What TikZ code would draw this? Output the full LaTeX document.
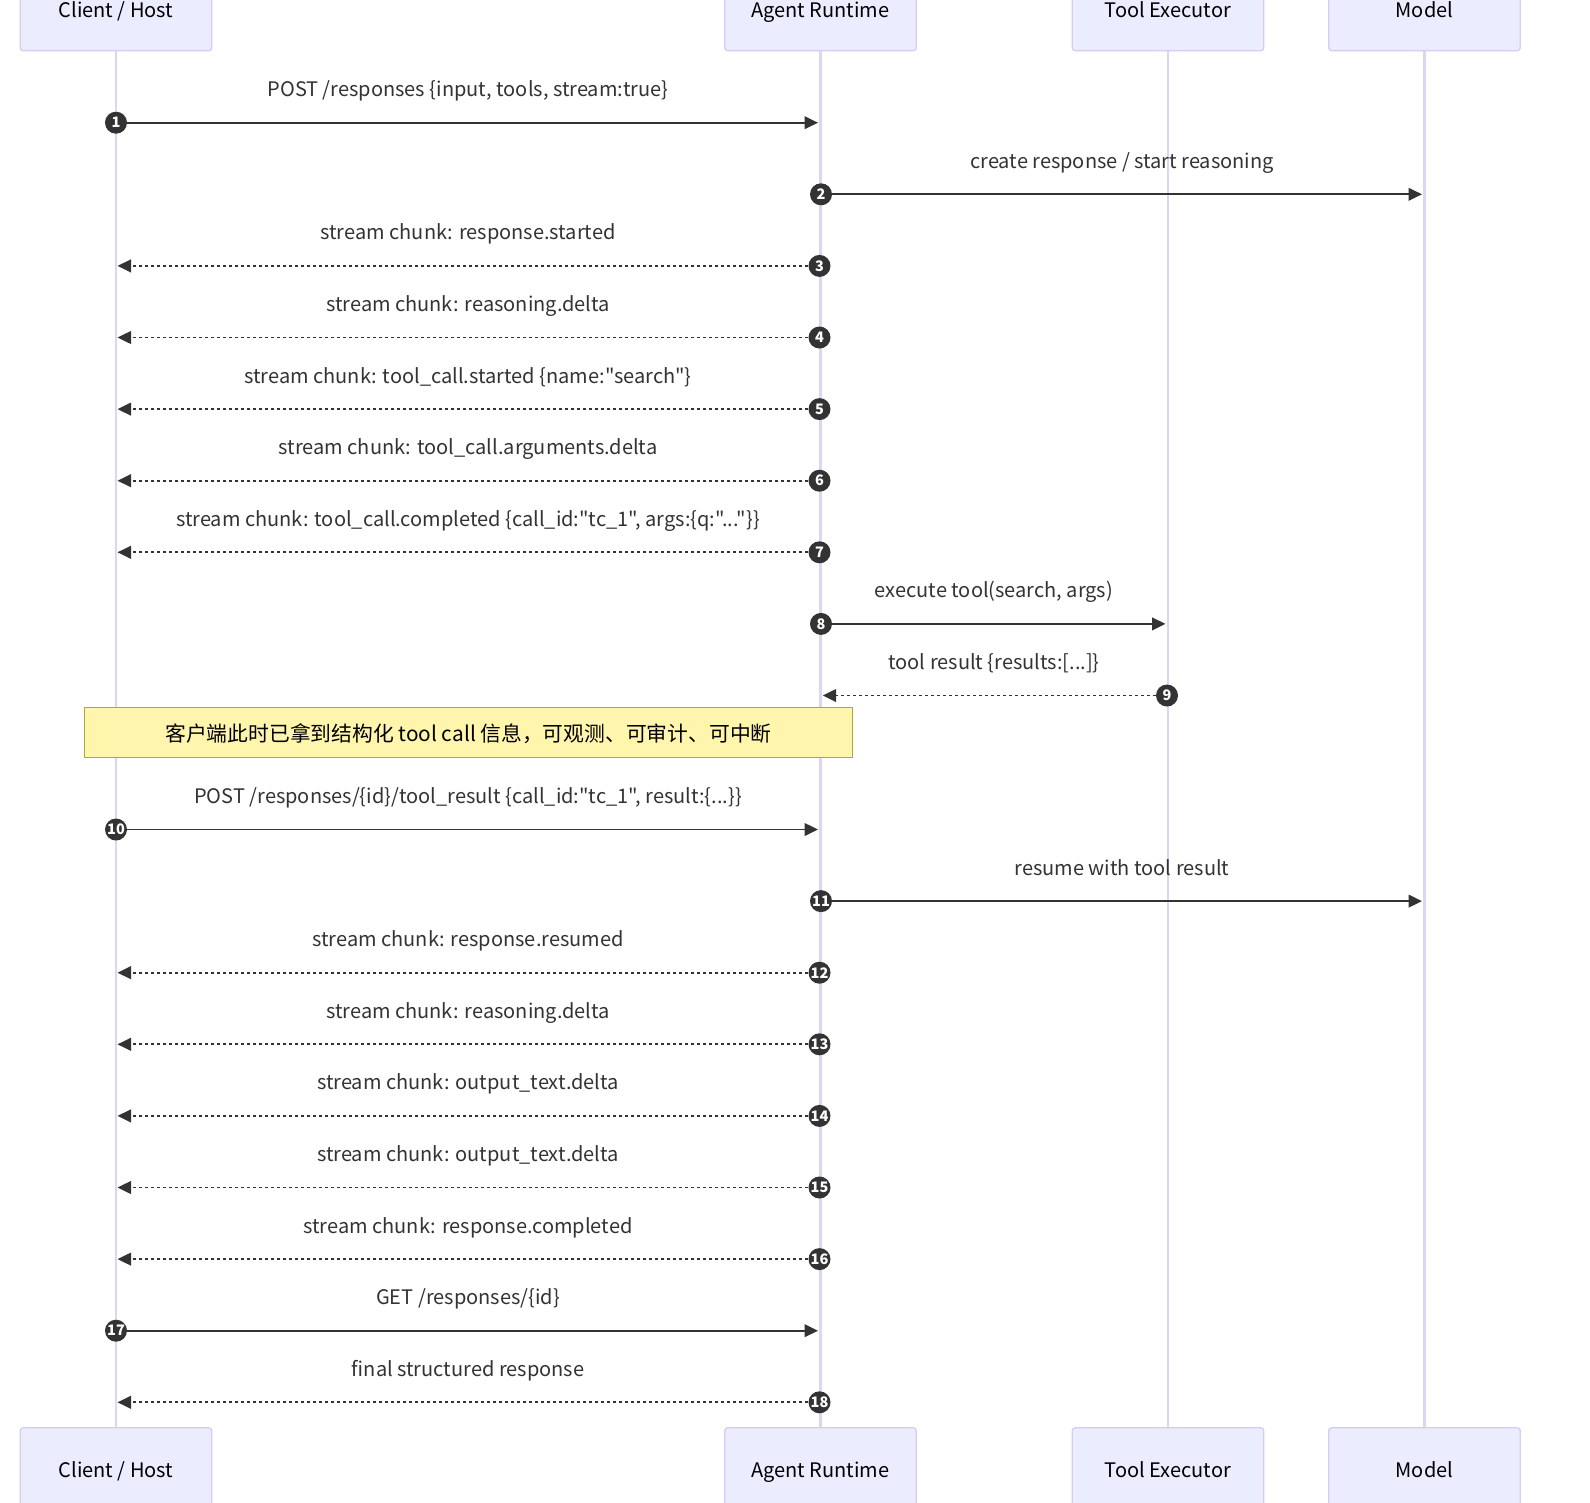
\documentclass[tikz,border=0pt]{standalone}
\usepackage{fontspec}
\setmainfont{Noto Sans CJK SC}[Ligatures=TeXOff]
\newfontfamily\numfont{Noto Sans CJK SC}[Ligatures=TeXOff]
\usetikzlibrary{arrows.meta}
\definecolor{actfill}{HTML}{ECECFF}
\definecolor{actline}{HTML}{D6CCF3}
\definecolor{lifeline}{HTML}{DDD5F6}
\definecolor{ink}{HTML}{333333}
\definecolor{notefill}{HTML}{FFF5AD}
\definecolor{noteline}{HTML}{AAAA33}
\newcommand{\seqmsg}[7]{%
  \node[num] (n#1) at (#3,#2) {#1};
  \coordinate (e#1) at (#4,#2);
  \draw[#5] (n#1) -- (e#1);
  \node[lbl] (l#1) at ({#6},{#2-30.5}) {#7};
}
\begin{document}
\begin{tikzpicture}[x=1pt,y=-1pt,
  font=\fontsize{20}{24}\selectfont,
  actor/.style={draw=actline, fill=actfill, line width=1.3pt, rounded corners=3pt,
    minimum width=191.6pt, minimum height=83pt, inner sep=0pt, text=black,
    text height=21pt, text depth=4.8pt},
  life/.style={draw=lifeline, line width=2.2pt},
  num/.style={circle, fill=ink, minimum size=22pt, inner sep=0pt, text=white,
    font=\numfont\bfseries\fontsize{14.5}{14.5}\selectfont},
  solidmsg/.style={draw=ink, line width=1.8pt, -{Triangle[length=13.5pt,width=12.7pt]}},
  dashmsg/.style={solidmsg, dash pattern=on 3pt off 3pt},
  lbl/.style={text=ink, inner sep=0pt, text height=14pt, text depth=5pt},
  notebox/.style={draw=noteline, fill=notefill, line width=1pt, minimum width=768.6pt,
    minimum height=49.7pt, inner sep=0pt, text=black,
    font=\fontsize{20.8}{24}\selectfont, text height=21pt, text depth=3.5pt}
]
\fill[white] (0,0) rectangle (1590,1502);
\clip (0,0) rectangle (1590,1502);

% actors
\node[actor] (ct) at (116,9.2) {Client / Host};
\node[actor] (at) at (820.5,9.2) {Agent Runtime};
\node[actor] (tt) at (1168,9.2) {Tool Executor};
\node[actor] (mt) at (1424.5,9.2) {Model};
\node[actor] (cb) at (116,1469.3) {Client / Host};
\node[actor] (ab) at (820.5,1469.3) {Agent Runtime};
\node[actor] (tb) at (1168,1469.3) {Tool Executor};
\node[actor] (mb) at (1424.5,1469.3) {Model};

% lifelines
\draw[life] (ct.south) -- (cb.north);
\draw[life] (at.south) -- (ab.north);
\draw[life] (tt.south) -- (tb.north);
\draw[life] (mt.south) -- (mb.north);

% messages
\seqmsg{1}{122.7}{116}{818}{solidmsg}{468}{POST /responses \{input, tools, stream:true\}}
\seqmsg{2}{194.3}{821}{1422}{solidmsg}{1122}{create response / start reasoning}
\seqmsg{3}{265.9}{819.5}{117.5}{dashmsg}{468}{stream chunk: response.started}
\seqmsg{4}{337.5}{819.5}{117.5}{dashmsg}{468}{stream chunk: reasoning.delta}
\seqmsg{5}{409.1}{819.5}{117.5}{dashmsg}{468}{stream chunk: tool\_call.started \{name:"search"\}}
\seqmsg{6}{480.7}{819.5}{117.5}{dashmsg}{468}{stream chunk: tool\_call.arguments.delta}
\seqmsg{7}{552.3}{819.5}{117.5}{dashmsg}{468}{stream chunk: tool\_call.completed \{call\_id:"tc\_1", args:\{q:"..."\}\}}
\seqmsg{8}{623.9}{821}{1165.5}{solidmsg}{994}{execute tool(search, args)}
\seqmsg{9}{695.5}{1167}{822.7}{dashmsg}{994}{tool result \{results:[...]\}}

% note
\node[notebox] (note) at (468.5,732.7) {客户端此时已拿到结构化 tool call 信息，可观测、可审计、可中断};

\seqmsg{10}{829.5}{116}{818}{solidmsg}{468}{POST /responses/\{id\}/tool\_result \{call\_id:"tc\_1", result:\{...\}\}}
\seqmsg{11}{901.1}{821}{1422}{solidmsg}{1122}{resume with tool result}
\seqmsg{12}{972.7}{819.5}{117.5}{dashmsg}{468}{stream chunk: response.resumed}
\seqmsg{13}{1044.3}{819.5}{117.5}{dashmsg}{468}{stream chunk: reasoning.delta}
\seqmsg{14}{1115.9}{819.5}{117.5}{dashmsg}{468}{stream chunk: output\_text.delta}
\seqmsg{15}{1187.5}{819.5}{117.5}{dashmsg}{468}{stream chunk: output\_text.delta}
\seqmsg{16}{1259.1}{819.5}{117.5}{dashmsg}{468}{stream chunk: response.completed}
\seqmsg{17}{1330.7}{116}{818}{solidmsg}{468}{GET /responses/\{id\}}
\seqmsg{18}{1402.3}{819.5}{117.5}{dashmsg}{468}{final structured response}
\end{tikzpicture}
\end{document}
